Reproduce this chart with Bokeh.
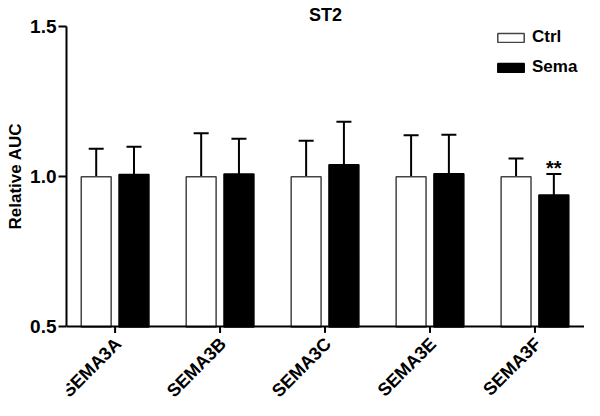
import numpy as np
from bokeh.plotting import figure
from bokeh.models import (ColumnDataSource, Range1d, FixedTicker, Whisker, TeeHead,
                          Legend, LegendItem, Title)
from bokeh.core.properties import value
from bokeh.embed import file_html
from bokeh.resources import INLINE

categories = ["SEMA3A", "SEMA3B", "SEMA3C", "SEMA3E", "SEMA3F"]
ctrl_mean = [1.0, 1.0, 1.0, 1.0, 1.0]
ctrl_err = [0.093, 0.145, 0.120, 0.138, 0.061]
sema_mean = [1.007, 1.009, 1.040, 1.010, 0.939]
sema_err = [0.093, 0.117, 0.143, 0.130, 0.070]
sig_labels = ["", "", "", "", "**"]
y_ticks = [0.5, 1.0, 1.5]

FONT = "Liberation Sans"
Y0, Y1 = 0.5, 1.5
idx = np.arange(len(categories))
OFF = 0.18
BW = 0.285

ctrl_src = ColumnDataSource(dict(
    x=idx - OFF, top=ctrl_mean, bottom=[Y0] * len(idx),
    upper=np.array(ctrl_mean) + np.array(ctrl_err)))
sema_src = ColumnDataSource(dict(
    x=idx + OFF, top=sema_mean, bottom=[Y0] * len(idx),
    upper=np.array(sema_mean) + np.array(sema_err)))

# the frame extends below the baseline so the rotated category labels fit
p = figure(width=584, height=400, output_backend="svg", toolbar_location=None,
           x_range=Range1d(-0.463, 4.472), y_range=Range1d(0.255, Y1),
           min_border_left=0, min_border_right=0, min_border_top=0, min_border_bottom=0)
p.outline_line_color = None
p.grid.visible = False
p.background_fill_color = "white"

p.title.text = "ST2"
p.title.align = "center"
p.title.text_font = FONT
p.title.text_font_size = "18px"
p.title.text_font_style = "bold"
p.title.text_color = "black"
p.title.standoff = 4

ctrl_r = p.vbar(x="x", top="top", bottom="bottom", width=BW, source=ctrl_src,
                fill_color="white", line_color="#444444", line_width=1.5)
sema_r = p.vbar(x="x", top="top", bottom="bottom", width=BW, source=sema_src,
                fill_color="black", line_color="black", line_width=1.5)

for src in (ctrl_src, sema_src):
    w = Whisker(source=src, base="x", lower="top", upper="upper", dimension="height",
                lower_head=None,
                upper_head=TeeHead(size=15, line_width=2, line_color="black"),
                line_width=2, line_color="black")
    p.add_layout(w)

# significance marks (only where given)
sig_x = [x + OFF for x, s in zip(idx, sig_labels) if s]
sig_y = [m + e + 0.02 for m, e, s in zip(sema_mean, sema_err, sig_labels) if s]
sig_t = [s for s in sig_labels if s]
p.text(x=sig_x, y=sig_y, text=sig_t, text_align="center",
       text_baseline="alphabetic", text_font=value(FONT), text_font_size="20px",
       text_font_style="bold", text_color="black")

# x axis line drawn at the baseline value; category ticks as short rays
xa = p.xaxis[0]
xa.fixed_location = Y0
xa.ticker = FixedTicker(ticks=[])
xa.minor_tick_line_color = None
xa.axis_line_width = 2
xa.axis_line_color = "black"
p.ray(x=idx, y=[Y0] * len(idx), length=6, length_units="screen",
      angle=-np.pi / 2, line_width=2, line_color="black")

# rotated category labels
p.text(x=idx, y=[Y0] * len(idx), text=categories, angle=np.pi / 4,
       x_offset=3, y_offset=14, text_align="right", text_baseline="middle",
       text_font=value(FONT), text_font_size="18px", text_font_style="bold",
       text_color="black")

ya = p.yaxis[0]
ya.bounds = (Y0, Y1)
ya.ticker = FixedTicker(ticks=y_ticks)
ya.major_label_overrides = {t: f"{t:.1f}" for t in y_ticks}
ya.minor_tick_line_color = None
ya.major_tick_in = 0
ya.major_tick_out = 8
ya.axis_line_width = 2
ya.axis_line_color = "black"
ya.major_tick_line_width = 2
ya.major_tick_line_color = "black"
ya.major_label_text_font = FONT
ya.major_label_text_font_size = "19px"
ya.major_label_text_font_style = "bold"
ya.major_label_text_color = "black"
ya.major_label_standoff = 2

ylab = Title(text="Relative AUC", align="left", offset=171, text_font=FONT,
             text_font_size="17px", text_font_style="bold", text_color="black",
             standoff=6)
p.add_layout(ylab, "left")

legend = Legend(items=[LegendItem(label="Ctrl", renderers=[ctrl_r]),
                       LegendItem(label="Sema", renderers=[sema_r])],
                location=(428, 323), border_line_color=None, background_fill_alpha=0,
                padding=0, margin=0, spacing=10, glyph_width=33, glyph_height=11,
                label_height=20, label_standoff=5, label_text_font=FONT,
                label_text_font_size="17px", label_text_font_style="bold",
                label_text_color="black")
p.add_layout(legend, "center")

open("out.html", "w").write(file_html(p, INLINE))
